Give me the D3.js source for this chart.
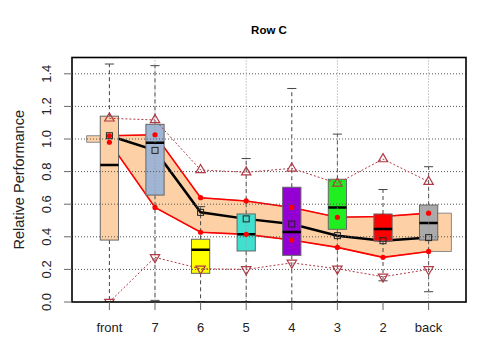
<!DOCTYPE html>
<html>
<head>
<meta charset="utf-8">
<script src="https://cdn.jsdelivr.net/npm/d3@7"></script>
<style>
  body { margin: 0; background: #fff; }
  svg { display: block; font-family: 'Liberation Sans', Arial, sans-serif; }
</style>
</head>
<body>
<svg id="chart" width="480" height="360"></svg>
<script>
const categories = ['front', '7', '6', '5', '4', '3', '2', 'back'];

// box statistics per category
const whiskerLow = [0.0, 0.01, 0.0, 0.0, 0.0, 0.0, 0.13, 0.063];
const q1 = [0.38, 0.656, 0.176, 0.313, 0.286, 0.446, 0.374, 0.38];
const median = [0.84, 0.977, 0.32, 0.415, 0.43, 0.58, 0.448, 0.485];
const q3 = [1.14, 1.09, 0.385, 0.54, 0.704, 0.753, 0.54, 0.595];
const whiskerHigh = [1.46, 1.45, 0.585, 0.88, 1.31, 1.03, 0.69, 0.83];

// lines
const meanValues = [1.02, 0.93, 0.55, 0.51, 0.478, 0.407, 0.376, 0.395];
const bandUpper = [1.02, 1.026, 0.64, 0.62, 0.58, 0.52, 0.525, 0.545];
const bandLower = [0.98, 0.58, 0.428, 0.415, 0.38, 0.335, 0.274, 0.31];
const triUp = [1.127, 1.117, 0.81, 0.796, 0.82, 0.728, 0.877, 0.738];
const triDown = [0.0, 0.274, 0.204, 0.2, 0.24, 0.204, 0.155, 0.2];

const yTicks = [0, 0.2, 0.4, 0.6, 0.8, 1.0, 1.2, 1.4];
const gridX = [2, 4, 6, 8];

const boxColors = ['#fdd1a5', '#a0b4d4', '#ffff00', '#40e0d0', '#9400d3', '#1fef1f', '#ff0000', '#aaaaaa'];

const plot = { left: 72, right: 466, top: 57.5, bottom: 302 };

const svg = d3.select('#chart');

const x = d3.scaleLinear().domain([0.18, 8.82]).range([plot.left, plot.right]);
const y = d3.scaleLinear().domain([0, 1.5]).range([plot.bottom, plot.top]);
const pos = (i) => x(i + 1);
const halfBox = (x(1.2) - x(0.8)) / 2;

svg
  .append('clipPath')
  .attr('id', 'clip')
  .append('rect')
  .attr('x', plot.left)
  .attr('y', plot.top)
  .attr('width', plot.right - plot.left)
  .attr('height', plot.bottom - plot.top);

const g = svg.append('g').attr('clip-path', 'url(#clip)');

//peach band, flat at both ends
const bandPts = [[0.5, bandUpper[0]]]
  .concat(bandUpper.map((v, i) => [i + 1, v]))
  .concat([[8.5, bandUpper[7]], [8.5, bandLower[7]]])
  .concat(bandLower.map((v, i) => [i + 1, v]).reverse())
  .concat([[0.5, bandLower[0]]]);

const lineXY = d3.line().x((d) => x(d[0])).y((d) => y(d[1]));

g.append('path')
  .attr('d', lineXY(bandPts) + 'Z')
  .attr('fill', '#fdd1a5')
  .attr('stroke', '#8a8a8a')
  .attr('stroke-width', 1);

const lineIdx = d3.line().x((d, i) => pos(i)).y((d) => y(d));

g.append('path')
  .attr('d', lineIdx(bandUpper))
  .attr('fill', 'none')
  .attr('stroke', '#ff0000')
  .attr('stroke-width', 1.6);

g.append('path')
  .attr('d', lineIdx(bandLower))
  .attr('fill', 'none')
  .attr('stroke', '#ff0000')
  .attr('stroke-width', 1.6);

g.append('path')
  .attr('d', lineIdx(meanValues))
  .attr('fill', 'none')
  .attr('stroke', '#000')
  .attr('stroke-width', 2.5);

//boxes
categories.forEach((c, i) => {
  const cx = pos(i);
  const box = g.append('g');

  box.append('line')
    .attr('x1', cx).attr('x2', cx)
    .attr('y1', y(q3[i])).attr('y2', y(whiskerHigh[i]))
    .attr('stroke', '#444').attr('stroke-dasharray', '4,3');
  box.append('line')
    .attr('x1', cx).attr('x2', cx)
    .attr('y1', y(q1[i])).attr('y2', y(whiskerLow[i]))
    .attr('stroke', '#444').attr('stroke-dasharray', '4,3');

  [whiskerHigh[i], whiskerLow[i]].forEach((v) => {
    box.append('line')
      .attr('x1', cx - halfBox / 2).attr('x2', cx + halfBox / 2)
      .attr('y1', y(v)).attr('y2', y(v))
      .attr('stroke', '#444');
  });

  box.append('rect')
    .attr('x', cx - halfBox)
    .attr('y', y(q3[i]))
    .attr('width', halfBox * 2)
    .attr('height', y(q1[i]) - y(q3[i]))
    .attr('fill', boxColors[i])
    .attr('stroke', '#666')
    .attr('stroke-width', 1);

  box.append('line')
    .attr('x1', cx - halfBox).attr('x2', cx + halfBox)
    .attr('y1', y(median[i])).attr('y2', y(median[i]))
    .attr('stroke', '#000')
    .attr('stroke-width', 2.5);
});

//grid
g.selectAll('.hgrid')
  .data(yTicks.slice(1))
  .join('line')
  .attr('x1', plot.left).attr('x2', plot.right)
  .attr('y1', (d) => y(d)).attr('y2', (d) => y(d))
  .attr('stroke', '#555')
  .attr('stroke-dasharray', '1,2');

g.selectAll('.vgrid')
  .data(gridX)
  .join('line')
  .attr('x1', (d) => x(d)).attr('x2', (d) => x(d))
  .attr('y1', plot.top).attr('y2', plot.bottom)
  .attr('stroke', '#999')
  .attr('stroke-dasharray', '1,2');

//triangle lines
const triColor = '#b03a46';
[triUp, triDown].forEach((vals, k) => {
  g.append('path')
    .attr('d', lineIdx(vals))
    .attr('fill', 'none')
    .attr('stroke', triColor)
    .attr('stroke-width', 1)
    .attr('stroke-dasharray', '2,2');

  g.selectAll(null)
    .data(vals)
    .join('path')
    .attr('d', d3.symbol(d3.symbolTriangle, 38))
    .attr('transform', (d, i) => `translate(${pos(i)},${y(d)}) rotate(${k ? 180 : 0})`)
    .attr('fill', 'none')
    .attr('stroke', triColor)
    .attr('stroke-width', 1.2);
});

//red dots
g.selectAll(null)
  .data(bandUpper.concat(bandLower))
  .join('circle')
  .attr('cx', (d, i) => pos(i % 8))
  .attr('cy', (d) => y(d))
  .attr('r', 2.6)
  .attr('fill', '#ff0000');

//mean squares
g.selectAll(null)
  .data(meanValues)
  .join('rect')
  .attr('x', (d, i) => pos(i) - 3)
  .attr('y', (d) => y(d) - 3)
  .attr('width', 6)
  .attr('height', 6)
  .attr('fill', 'none')
  .attr('stroke', '#222')
  .attr('stroke-width', 1);

//frame
svg.append('rect')
  .attr('x', plot.left)
  .attr('y', plot.top)
  .attr('width', plot.right - plot.left)
  .attr('height', plot.bottom - plot.top)
  .attr('fill', 'none')
  .attr('stroke', '#000')
  .attr('stroke-width', 1.6);

//axes
svg.selectAll('.ytick')
  .data(yTicks)
  .join('line')
  .attr('x1', plot.left - 8).attr('x2', plot.left)
  .attr('y1', (d) => y(d)).attr('y2', (d) => y(d))
  .attr('stroke', '#666');

svg.selectAll('.ylab')
  .data(yTicks)
  .join('text')
  .attr('transform', (d) => `translate(51,${y(d)}) rotate(-90)`)
  .attr('text-anchor', 'middle')
  .attr('font-size', 13)
  .attr('fill', '#222')
  .text(d3.format('.1f'));

svg.selectAll('.xtick')
  .data(categories)
  .join('line')
  .attr('x1', (d, i) => pos(i)).attr('x2', (d, i) => pos(i))
  .attr('y1', plot.bottom).attr('y2', plot.bottom + 8)
  .attr('stroke', '#666');

svg.selectAll('.xlab')
  .data(categories)
  .join('text')
  .attr('x', (d, i) => pos(i))
  .attr('y', 332)
  .attr('text-anchor', 'middle')
  .attr('font-size', 13)
  .attr('fill', '#222')
  .text((d) => d);

svg.append('text')
  .attr('transform', `translate(24,${(plot.top + plot.bottom) / 2}) rotate(-90)`)
  .attr('text-anchor', 'middle')
  .attr('font-size', 14.5)
  .attr('fill', '#222')
  .text('Relative Performance');

svg.append('text')
  .attr('x', (plot.left + plot.right) / 2)
  .attr('y', 34)
  .attr('text-anchor', 'middle')
  .attr('font-size', 11.5)
  .attr('font-weight', 'bold')
  .text('Row C');
</script>
</body>
</html>
